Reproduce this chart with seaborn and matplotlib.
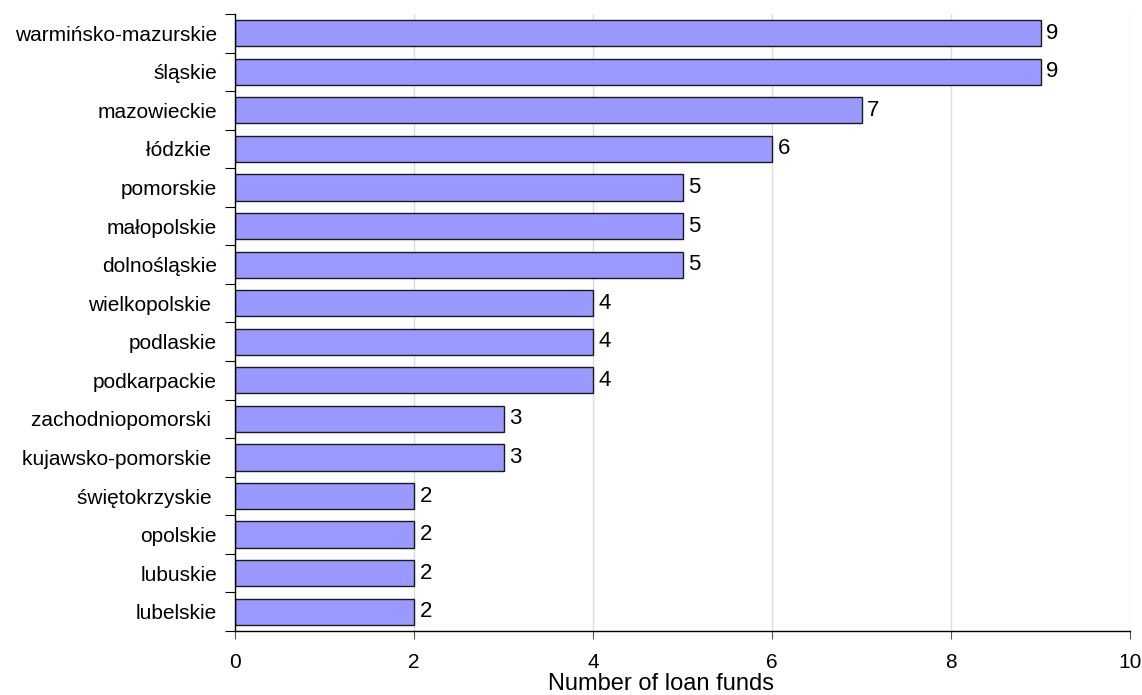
import pandas as pd
import numpy as np
import matplotlib.pyplot as plt
import seaborn as sns
from matplotlib.ticker import FixedLocator

regions = ['warmińsko-mazurskie', 'śląskie', 'mazowieckie', 'łódzkie ', 'pomorskie',
           'małopolskie', 'dolnośląskie', 'wielkopolskie ', 'podlaskie', 'podkarpackie',
           'zachodniopomorski ', 'kujawsko-pomorskie ', 'świętokrzyskie ', 'opolskie',
           'lubuskie', 'lubelskie']
funds = [9, 9, 7, 6, 5, 5, 5, 4, 4, 4, 3, 3, 2, 2, 2, 2]
x_ticks = [0, 2, 4, 6, 8, 10]

df = pd.DataFrame({'region': regions, 'funds': funds})

sns.set_style('white')
plt.rcParams['font.family'] = ['Liberation Sans', 'DejaVu Sans']
plt.rcParams['text.color'] = 'black'
plt.rcParams['axes.labelcolor'] = 'black'
plt.rcParams['xtick.color'] = 'black'
plt.rcParams['ytick.color'] = 'black'

fig = plt.figure(figsize=(11.42, 6.95), dpi=100)
ax = fig.add_axes([0.2058, 0.0921, 0.7837, 0.8878])

sns.barplot(data=df, y='region', x='funds', order=regions, orient='h',
            color='#9999FF', saturation=1, edgecolor='#1a1a1a', linewidth=1,
            width=0.68, ax=ax)

ax.bar_label(ax.containers[0], padding=4, fontsize=16, color='black')

ax.set_xlim(0, 10)
ax.set_ylim(len(regions) - 0.5, -0.5)
ax.set_xticks(x_ticks)
ax.grid(axis='x', color='#dcdcdc', linewidth=1)
ax.set_axisbelow(True)

# ticks between categories on the left spine
ax.yaxis.set_minor_locator(FixedLocator(np.arange(-0.5, len(regions), 1)))
ax.tick_params(axis='y', which='major', length=0, labelsize=15, pad=13)
ax.tick_params(axis='y', which='minor', length=7, width=0.8, color='black', left=True)
ax.tick_params(axis='x', length=6, width=0.8, color='#555555', bottom=True, labelsize=15, pad=10)

for s in ['top', 'right']:
    ax.spines[s].set_visible(False)
for s in ['left', 'bottom']:
    ax.spines[s].set_color('black')
    ax.spines[s].set_linewidth(1)

ax.set_ylabel('')
ax.set_xlabel('Number of loan funds', fontsize=17)
ax.xaxis.set_label_coords(0.476, -0.068)

fig.savefig('out.png', dpi=100)
